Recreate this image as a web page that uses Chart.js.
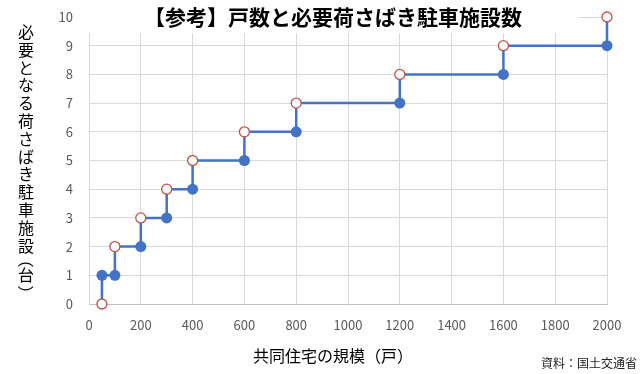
<!DOCTYPE html>
<html>
<head>
<meta charset="utf-8">
<script src="https://cdn.jsdelivr.net/npm/chart.js@4"></script>
<style>
  html, body { margin: 0; padding: 0; background: #fff; }
  #wrap { width: 640px; height: 374px; position: relative; }
</style>
</head>
<body>
<div id="wrap"><canvas id="chart" width="640" height="374"></canvas></div>
<script>
// data
const households = [50, 100, 200, 300, 400, 600, 800, 1200, 1600, 2000];
const facilities = [1, 1, 2, 3, 4, 5, 6, 7, 8, 9];      // filled markers
const nextLevel = [0, 2, 3, 4, 5, 6, 7, 8, 9, 10];      // open markers
const xTicks = [0, 200, 400, 600, 800, 1000, 1200, 1400, 1600, 1800, 2000];
const yTicks = [0, 1, 2, 3, 4, 5, 6, 7, 8, 9, 10];

const titleText = '【参考】戸数と必要荷さばき駐車施設数';
const yTitle = '必要となる荷さばき駐車施設（台）';
const xTitle = '共同住宅の規模（戸）';
const sourceText = '資料：国土交通省';

const FONT = '"Noto Sans CJK JP", "Noto Sans", sans-serif';

// step path: vertical segment at each x, joined by horizontals
const stepPath = [];
households.forEach((x, i) => {
    const lo = Math.min(facilities[i], nextLevel[i]);
    const hi = Math.max(facilities[i], nextLevel[i]);
    stepPath.push({ x: x, y: lo });
    stepPath.push({ x: x, y: hi });
});

const filledPts = households.map((x, i) => ({ x: x, y: facilities[i] }));
const openPts = households.map((x, i) => ({ x: x, y: nextLevel[i] }));

// draw a glyph turned 90deg with its ink centred on (cx, cy)
function drawSideways(ctx, c, cx, cy) {
    const m = ctx.measureText(c);
    const gx = (m.actualBoundingBoxRight - m.actualBoundingBoxLeft) / 2;
    const gy = (m.actualBoundingBoxDescent - m.actualBoundingBoxAscent) / 2;
    ctx.save();
    ctx.translate(cx + gy, cy - gx);
    ctx.rotate(Math.PI / 2);
    ctx.fillText(c, 0, 0);
    ctx.restore();
}

// title box covers the top of the grid, plus the vertical y title and source note
const textPlugin = {
    id: 'texts',
    beforeDatasetsDraw(chart) {
        const ctx = chart.ctx;
        ctx.save();
        ctx.fillStyle = '#fff';
        ctx.fillRect(84, 0, 494, 33);
        ctx.fillStyle = '#000';
        ctx.font = 'bold 21px ' + FONT;
        ctx.textAlign = 'center';
        ctx.textBaseline = 'middle';
        ctx.fillText(titleText, 333, 17);
        ctx.restore();
    },
    afterDraw(chart) {
        const ctx = chart.ctx;
        ctx.save();
        ctx.fillStyle = '#000';
        ctx.textAlign = 'center';
        ctx.textBaseline = 'middle';
        ctx.font = '16px ' + FONT;
        // vertical writing, brackets turned sideways and set tight
        let y = 32;
        Array.from(yTitle).forEach((c) => {
            if (c === '（') {
                drawSideways(ctx, c, 26, y + 1.6);
                y += 11.6;
            } else if (c === '）') {
                drawSideways(ctx, c, 26, y - 4.8);
            } else {
                ctx.fillText(c, 26, y);
                y += 17.8;
            }
        });
        ctx.fillText(xTitle, 333, 356);
        ctx.font = '12px ' + FONT;
        ctx.fillStyle = '#222';
        ctx.textAlign = 'right';
        ctx.fillText(sourceText, 637, 363);
        ctx.restore();
    }
};

const noEdgePadding = (scale) => {
    scale.paddingTop = 0;
    scale.paddingBottom = 0;
    scale.paddingLeft = 0;
    scale.paddingRight = 0;
};

const ctx = document.getElementById('chart').getContext('2d');
new Chart(ctx, {
    type: 'line',
    data: {
        datasets: [
            {
                label: 'open',
                data: openPts,
                showLine: false,
                pointRadius: 5,
                pointBackgroundColor: '#fff',
                pointBorderColor: '#C0504D',
                pointBorderWidth: 1.3,
                clip: false,
                order: 0
            },
            {
                label: 'filled',
                data: filledPts,
                showLine: false,
                pointRadius: 5.5,
                pointBackgroundColor: '#4472C4',
                pointBorderColor: '#4472C4',
                pointBorderWidth: 0,
                clip: false,
                order: 1
            },
            {
                label: 'step',
                data: stepPath,
                borderColor: '#4472C4',
                borderWidth: 2.5,
                pointRadius: 0,
                fill: false,
                clip: false,
                order: 2
            }
        ]
    },
    options: {
        responsive: false,
        animation: false,
        events: [],
        layout: { padding: { left: 49, right: 33, top: 17, bottom: 40 } },
        plugins: {
            legend: { display: false },
            title: { display: false },
            tooltip: { enabled: false }
        },
        scales: {
            x: {
                type: 'linear',
                min: 0,
                max: 2000,
                afterBuildTicks: (scale) => { scale.ticks = xTicks.map(v => ({ value: v })); },
                afterFit: (scale) => { scale.height = 30; noEdgePadding(scale); },
                grid: { color: '#d9d9d9', lineWidth: 1, drawTicks: false },
                border: { color: '#bfbfbf' },
                ticks: {
                    padding: 13,
                    color: '#595959',
                    font: { family: FONT, size: 13 },
                    maxRotation: 0,
                    callback: (v) => String(v)
                }
            },
            y: {
                type: 'linear',
                min: 0,
                max: 10,
                afterBuildTicks: (scale) => { scale.ticks = yTicks.map(v => ({ value: v })); },
                afterFit: (scale) => { scale.width = 40; noEdgePadding(scale); },
                grid: { color: '#d9d9d9', lineWidth: 1, drawTicks: false },
                border: { color: '#d9d9d9' },
                ticks: {
                    padding: 16,
                    color: '#595959',
                    font: { family: FONT, size: 13 },
                    callback: (v) => String(v)
                }
            }
        }
    },
    plugins: [textPlugin]
});
</script>
</body>
</html>
